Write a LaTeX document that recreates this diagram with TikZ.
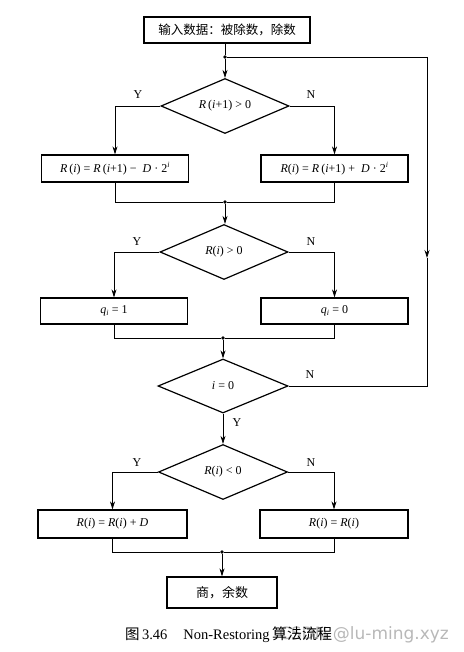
\documentclass[tikz,border=0pt]{standalone}
\usepackage{fontspec}
\setmainfont{Liberation Serif}
\newfontfamily\cjk{Noto Sans CJK SC}
\newfontfamily\wmfont{DejaVu Sans}
\usetikzlibrary{shapes.geometric,arrows.meta}
\newcommand\V[1]{\textit{#1}}
\begin{document}
\begin{tikzpicture}[x=1pt,y=-1pt,
  box/.style={draw,line width=1.2pt,rectangle,inner sep=0pt,minimum height=27pt,minimum width=147pt,font=\fontsize{12}{14}\selectfont},
  dia/.style={draw,line width=1.2pt,diamond,aspect=2.3,inner sep=0pt,minimum width=128pt,minimum height=55pt,font=\fontsize{12}{14}\selectfont},
  ln/.style={line width=0.8pt},
  arr/.style={line width=0.8pt,-{Stealth[length=8pt,width=5pt]}},
  dot/.style={circle,fill,inner sep=0pt,minimum size=3.6pt},
  lab/.style={font=\fontsize{12}{14}\selectfont,inner sep=0pt}]
\useasboundingbox (0,0) rectangle (463,652);
% nodes
\node[box,minimum width=166pt,minimum height=26pt,font=\cjk\fontsize{12.5}{14}\selectfont] (top) at (227,30) {输入数据：被除数，除数};
\node[dot] (j0) at (225,57) {};
\node[dia] (d1) at (225,106) {\V{R}\,(\V{i}+1) > 0};
\node[box] (L1) at (115,168.5) {\V{R}\,(\V{i}) = \V{R}\,(\V{i}+1) −\enspace\V{D} · 2\textsuperscript{\V{i}}};
\node[box] (R1) at (334.5,168.5) {\V{R}(\V{i}) = \V{R}\,(\V{i}+1) +\enspace\V{D} · 2\textsuperscript{\V{i}}};
\node[dot] (j1) at (225,202) {};
\node[dia] (d2) at (224,252) {\V{R}(\V{i}) > 0};
\node[box,minimum height=26pt] (L2) at (114,311) {\V{q}\textsubscript{\V{i}} = 1};
\node[box,minimum height=26pt] (R2) at (334.5,311) {\V{q}\textsubscript{\V{i}} = 0};
\node[dot] (j2) at (223,338) {};
\node[dia,minimum width=130pt,minimum height=54pt] (d3) at (223,386) {\V{i} = 0};
\node[dia,minimum width=129pt] (d4) at (223,472) {\V{R}(\V{i}) < 0};
\node[box,minimum height=28pt,minimum width=149pt] (L4) at (112.5,524) {\V{R}(\V{i}) = \V{R}(\V{i}) + \V{D}};
\node[box,minimum height=28pt,minimum width=148pt] (R4) at (334,524) {\V{R}(\V{i}) = \V{R}(\V{i})};
\node[dot] (j3) at (222,552) {};
\node[box,minimum width=110pt,minimum height=31pt,font=\cjk\fontsize{13}{15}\selectfont] (fin) at (222,592.5) {商，余数};
% labels
\node[lab] at (138,95) {Y};
\node[lab] at (311,95) {N};
\node[lab] at (137,242) {Y};
\node[lab] at (311,242) {N};
\node[lab] at (310,375) {N};
\node[lab] at (237,423) {Y};
\node[lab] at (137,463) {Y};
\node[lab] at (311,463) {N};
% loop corners
\coordinate (c1) at (427,57);
\coordinate (c2) at (427,258);
\coordinate (c3) at (427,386);
% connectors
\draw[ln] (top.south -| j0) -- (j0);
\draw[arr] (j0) -- (d1.north);
\draw[arr] (d1.west) -| (L1.north);
\draw[arr] (d1.east) -| (R1.north);
\draw[ln] (L1.south) |- (j1);
\draw[ln] (R1.south) |- (j1);
\draw[arr] (j1) -- (j1 |- d2.north);
\draw[arr] (d2.west) -| (L2.north);
\draw[arr] (d2.east) -| (R2.north);
\draw[ln] (L2.south) |- (j2);
\draw[ln] (R2.south) |- (j2);
\draw[arr] (j2) -- (d3.north);
\draw[arr] (d3.south) -- (d4.north);
\draw[arr] (d4.west) -| (L4.north);
\draw[arr] (d4.east) -| (R4.north);
\draw[ln] (L4.south) |- (j3);
\draw[ln] (R4.south) |- (j3);
\draw[arr] (j3) -- (fin.north);
\draw[ln] (j0) -- (c1);
\draw[arr] (c1) -- (c2);
\draw[ln] (c2) -- (c3) -- (d3.east);
% caption
\node[anchor=east,inner sep=0pt,text=black!28,font=\wmfont\fontsize{17}{19}\selectfont] (wm) at (449,635) {CSDN @lu-ming.xyz};
\node[anchor=west,inner sep=0pt,font=\fontsize{14.5}{16}\selectfont] (cap) at (125,635) {{\cjk\fontsize{14.5}{16}\selectfont 图}\,3.46\hspace{1.1em}Non-Restoring\,{\cjk\fontsize{15}{16}\selectfont 算法流程}};
\end{tikzpicture}
\end{document}
